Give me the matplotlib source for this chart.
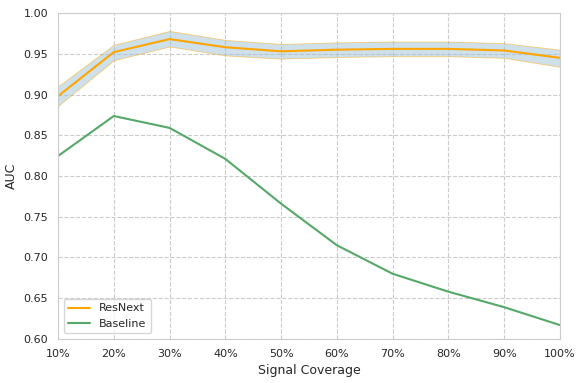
import matplotlib.pyplot as plt
import seaborn as sns
from matplotlib.ticker import PercentFormatter

coverage = [10, 20, 30, 40, 50, 60, 70, 80, 90, 100]
resnext_auc = [0.898, 0.952, 0.968, 0.958, 0.953, 0.955, 0.956, 0.956, 0.954, 0.945]
resnext_low = [0.886, 0.942, 0.959, 0.948, 0.944, 0.946, 0.947, 0.947, 0.945, 0.934]
resnext_high = [0.910, 0.961, 0.978, 0.967, 0.962, 0.964, 0.965, 0.965, 0.963, 0.955]
baseline_auc = [0.8245, 0.8736, 0.859, 0.821, 0.766, 0.715, 0.680, 0.658, 0.639, 0.617]

sns.set_style("whitegrid", {"grid.linestyle": "--"})

fig, ax = plt.subplots(figsize=(5.83, 3.83), dpi=100)
fig.subplots_adjust(left=0.0995, right=0.9605, bottom=0.115, top=0.966)
ax.fill_between(coverage, resnext_low, resnext_high, facecolor="#9fc2d6", alpha=0.5,
                edgecolor=(1.0, 0.65, 0.0, 0.15), linewidth=0.6)
ax.plot(coverage, resnext_auc, color="orange", linewidth=1.5, label="ResNext")
ax.plot(coverage, baseline_auc, color="#55a868", linewidth=1.5, label="Baseline")

ax.set_xlim(10, 100)
ax.set_ylim(0.6, 1.0)
ax.set_xticks(coverage)
ax.xaxis.set_major_formatter(PercentFormatter(decimals=0))
ax.tick_params(labelsize=8)
ax.set_xlabel("Signal Coverage", fontsize=9)
ax.set_ylabel("AUC", fontsize=9)
ax.legend(loc="lower left", fontsize=8)

fig.savefig("out.png", dpi=100)
